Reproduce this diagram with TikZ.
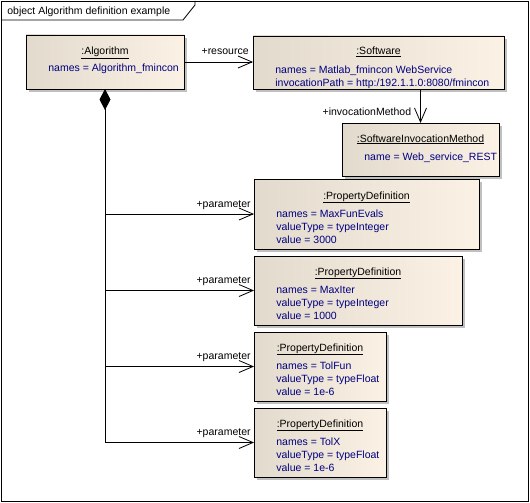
\documentclass[tikz,border=0pt]{standalone}
\usepackage{fontspec}
\setmainfont{Liberation Sans}
\usepackage{xcolor}
\usetikzlibrary{arrows.meta, positioning, calc, shadows}
\definecolor{boxleft}{RGB}{226,218,205}
\definecolor{boxright}{RGB}{251,242,229}
\definecolor{attrblue}{RGB}{0,0,128}
\definecolor{shadowgray}{RGB}{192,192,192}
\tikzstyle{objbox} = [rectangle, draw=black, anchor=north west, inner sep=0pt,
    outer sep=0pt, left color=boxleft, right color=boxright,
    drop shadow={shadow xshift=3pt, shadow yshift=-3pt, opacity=1, fill=shadowgray}]
\tikzstyle{objtitle} = [anchor=base, inner sep=0pt, font=\fontsize{10.5}{13}\selectfont]
% multi-line nodes: base anchor sits on the last line
\tikzstyle{attrs} = [anchor=base west, inner sep=0pt, align=left, text=attrblue,
    font=\fontsize{10.5}{13}\selectfont]
\tikzstyle{rolelabel} = [anchor=base east, inner sep=0pt, font=\fontsize{10.5}{13}\selectfont]
\tikzstyle{assoc} = [-{Straight Barb[length=14pt,width=12pt]}]
\tikzstyle{composition} = [{Diamond[length=21pt,width=11pt]}-{Straight Barb[length=14pt,width=12pt]}]

\begin{document}
\begin{tikzpicture}[x=1pt, y=-1pt, line width=0.8pt]
  \useasboundingbox (0,0) rectangle (530,503);
  % Frame
  \draw (1,1) rectangle (528.5,501.5);
  \draw (1,20) -- (183,20) -- (195,5) -- (195,1);
  \node[anchor=base west, inner sep=0pt, font=\fontsize{10.5}{13}\selectfont] (frametitle)
    at (7,15) {object Algorithm definition example};

  % Objects
  \node[objbox, minimum width=158, minimum height=54] (alg) at (26,35) {};
  \node[objbox, minimum width=251, minimum height=53] (sw) at (253,36) {};
  \node[objbox, minimum width=157, minimum height=53] (sim) at (342,123) {};
  \node[objbox, minimum width=225, minimum height=70] (pd1) at (254,179) {};
  \node[objbox, minimum width=208, minimum height=69] (pd2) at (254,256) {};
  \node[objbox, minimum width=132, minimum height=69] (pd3) at (254,332) {};
  \node[objbox, minimum width=132, minimum height=69] (pd4) at (254,408) {};

  % Titles
  \node[objtitle] (algT) at ($(alg.north)+(0,20)$) {\underline{:Algorithm}};
  \node[objtitle] (swT) at ($(sw.north)+(0,19)$) {\underline{:Software}};
  \node[objtitle] (simT) at ($(sim.north)+(0,19)$) {\underline{:SoftwareInvocationMethod}};
  \node[objtitle] (pd1T) at ($(pd1.north)+(0,20)$) {\underline{:PropertyDefinition}};
  \node[objtitle] (pd2T) at ($(pd2.north)+(0,19)$) {\underline{:PropertyDefinition}};
  \node[objtitle] (pd3T) at ($(pd3.north)+(0,19)$) {\underline{:PropertyDefinition}};
  \node[objtitle] (pd4T) at ($(pd4.north)+(0,19)$) {\underline{:PropertyDefinition}};

  % Attributes
  \node[attrs] (algA) at ($(alg.north west)+(22,37)$) {names = Algorithm\_fmincon};
  \node[attrs] (swA) at ($(sw.north west)+(22,50)$)
    {names = Matlab\_fmincon WebService\\invocationPath = http:/192.1.1.0:8080/fmincon};
  \node[attrs] (simA) at ($(sim.north west)+(22,37)$) {name = Web\_service\_REST};
  \node[attrs] (pd1A) at ($(pd1.north west)+(22,64)$)
    {names = MaxFunEvals\\valueType = typeInteger\\value = 3000};
  \node[attrs] (pd2A) at ($(pd2.north west)+(22,63)$)
    {names = MaxIter\\valueType = typeInteger\\value = 1000};
  \node[attrs] (pd3A) at ($(pd3.north west)+(22,63)$)
    {names = TolFun\\valueType = typeFloat\\value = 1e-6};
  \node[attrs] (pd4A) at ($(pd4.north west)+(22,63)$)
    {names = TolX\\valueType = typeFloat\\value = 1e-6};

  % Associations
  \draw[assoc] (alg.east) -- (alg.east -| sw.west);
  \draw[assoc] (sim.north |- sw.south) -- (sim.north);
  \draw[composition] (alg.south) |- (pd4.west);
  \coordinate (j1) at (alg.south |- pd1.west);
  \coordinate (j2) at (alg.south |- pd2.west);
  \coordinate (j3) at (alg.south |- pd3.west);
  \draw[assoc] (j1) -- (pd1.west);
  \draw[assoc] (j2) -- (pd2.west);
  \draw[assoc] (j3) -- (pd3.west);

  % Role labels
  \node[rolelabel] (resL) at ($(alg.east -| sw.west)+(-4,-7)$) {+resource};
  \node[rolelabel] (invL) at ($(sim.north)+(-9,-8)$) {+invocationMethod};
  \node[rolelabel] (p1L) at ($(pd1.west)+(-3,-7)$) {+parameter};
  \node[rolelabel] (p2L) at ($(pd2.west)+(-3,-7)$) {+parameter};
  \node[rolelabel] (p3L) at ($(pd3.west)+(-3,-7)$) {+parameter};
  \node[rolelabel] (p4L) at ($(pd4.west)+(-3,-7)$) {+parameter};
\end{tikzpicture}
\end{document}
